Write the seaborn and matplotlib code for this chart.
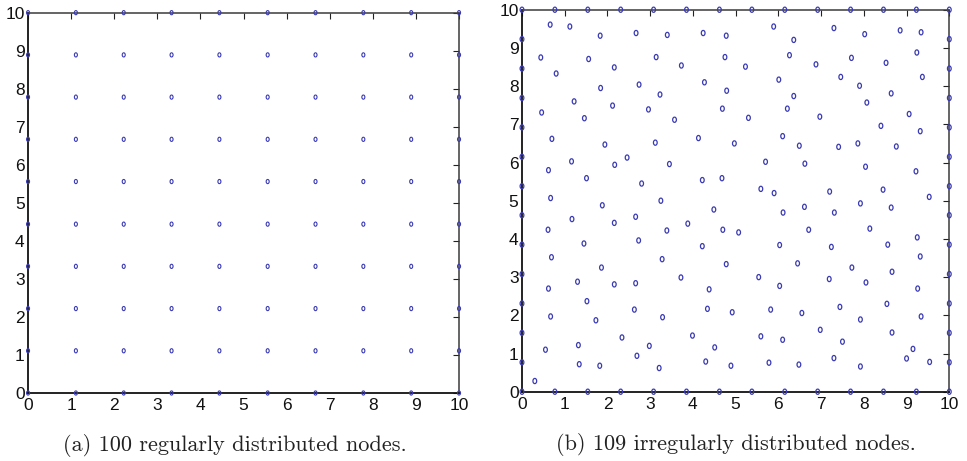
import numpy as np
import pandas as pd
import matplotlib
matplotlib.use("Agg")
import matplotlib.pyplot as plt
from matplotlib.path import Path
from matplotlib.transforms import Affine2D
import seaborn as sns

sns.set_style("white")
plt.rcParams["font.family"] = ["Liberation Sans", "DejaVu Sans"]

# (a) regular grid coordinates (same along both axes)
grid_ticks = [0, 1.11, 2.22, 3.33, 4.44, 5.56, 6.67, 7.78, 8.89, 10]

# (b) nodes placed along the domain boundary (same along every side)
edge_ticks = [0, 0.77, 1.54, 2.31, 3.08, 3.85, 4.62, 5.38, 6.15, 6.92,
              7.69, 8.46, 9.23, 10]

# (b) interior scattered nodes
irr_x = [0.66, 1.12, 1.83, 2.67, 3.40, 4.24, 4.78, 0.44, 1.56, 3.14,
         4.75, 0.80, 2.16, 3.73, 1.84, 2.74, 4.27, 4.79, 3.23, 1.22,
         2.12, 0.46, 2.96, 4.69, 1.46, 3.57, 0.70, 4.13, 4.97, 1.94,
         3.12, 2.46, 1.16, 2.17, 3.45, 0.62, 1.51, 4.22, 4.68, 2.80,
         0.67, 3.25, 1.88, 4.49, 1.17, 2.66, 2.16, 3.88, 0.61, 3.39,
         4.70, 5.07,
         5.89, 7.30, 8.02, 8.85, 9.34, 6.36, 6.26, 7.71, 6.88, 8.52,
         9.24, 5.23, 6.01, 7.46, 7.90, 9.37, 8.64, 6.36, 6.21, 8.07,
         5.30, 6.97, 9.06, 8.40, 9.32, 6.10, 6.49, 7.41, 7.86, 8.76,
         5.70, 6.62, 8.04, 9.22, 5.59, 5.90, 7.20, 8.45, 9.53, 6.61,
         7.92, 8.64, 6.11, 7.31, 6.71, 8.14,
         1.45, 2.73, 4.22, 0.69, 3.28, 4.78, 1.86, 1.30, 2.16, 2.66,
         3.72, 0.62, 4.38, 1.52, 2.63, 4.34, 0.67, 1.73, 3.29, 4.92,
         2.34, 3.99, 0.55, 1.32, 2.98, 4.51, 2.69, 1.34, 1.82, 3.21,
         4.30, 4.89, 0.30,
         6.03, 7.24, 8.56, 9.25, 9.32, 6.45, 7.72, 8.66, 5.54, 6.03,
         7.19, 8.05, 9.26, 5.82, 6.55, 7.44, 8.54, 7.92, 9.34, 6.98,
         8.66, 5.59, 6.10, 7.50, 9.15, 5.78, 6.48, 7.30, 9.00, 9.54,
         7.92]
irr_y = [9.61, 9.56, 9.32, 9.39, 9.34, 9.39, 9.32, 8.75, 8.71, 8.76,
         8.76, 8.33, 8.49, 8.54, 7.95, 8.04, 8.10, 7.88, 7.78, 7.60,
         7.49, 7.31, 7.39, 7.41, 7.16, 7.12, 6.62, 6.64, 6.50, 6.47,
         6.52, 6.13, 6.03, 5.94, 5.96, 5.80, 5.59, 5.54, 5.59, 5.45,
         5.07, 5.00, 4.88, 4.77, 4.52, 4.58, 4.42, 4.40, 4.24, 4.22,
         4.24, 4.17,
         9.56, 9.52, 9.36, 9.46, 9.41, 9.21, 8.81, 8.74, 8.57, 8.61,
         8.88, 8.51, 8.17, 8.24, 8.01, 8.24, 7.81, 7.74, 7.41, 7.57,
         7.17, 7.20, 7.27, 6.96, 6.82, 6.69, 6.44, 6.41, 6.50, 6.42,
         6.02, 5.97, 5.89, 5.77, 5.31, 5.20, 5.24, 5.29, 5.10, 4.84,
         4.93, 4.82, 4.69, 4.69, 4.24, 4.27,
         3.88, 3.96, 3.81, 3.52, 3.47, 3.34, 3.25, 2.88, 2.81, 2.84,
         2.99, 2.70, 2.68, 2.37, 2.15, 2.17, 1.97, 1.87, 1.95, 2.08,
         1.42, 1.47, 1.10, 1.22, 1.20, 1.16, 0.94, 0.72, 0.68, 0.62,
         0.79, 0.68, 0.28,
         3.84, 3.79, 3.85, 4.04, 3.54, 3.36, 3.25, 3.14, 3.00, 2.77,
         2.95, 2.86, 2.70, 2.15, 2.06, 2.22, 2.30, 1.89, 1.97, 1.62,
         1.55, 1.45, 1.36, 1.31, 1.12, 0.76, 0.71, 0.88, 0.87, 0.78,
         0.66]

captions = ["(a) 100 regularly distributed nodes.",
            "(b) 109 irregularly distributed nodes."]
axis_ticks = list(range(0, 11))

# regular grid table
gx, gy = np.meshgrid(grid_ticks, grid_ticks)
regular = pd.DataFrame({"x": gx.ravel(), "y": gy.ravel()})

# boundary + interior table
e = np.array(edge_ticks)
bx = np.concatenate([e, e, np.zeros_like(e[1:-1]), np.full_like(e[1:-1], 10)])
by = np.concatenate([np.zeros_like(e), np.full_like(e, 10), e[1:-1], e[1:-1]])
irregular = pd.DataFrame({"x": np.concatenate([bx, irr_x]),
                          "y": np.concatenate([by, irr_y])})

# slightly tall oval marker
oval = Path.unit_circle().transformed(Affine2D().scale(0.72, 1.0))
node_color = "#3a3ab4"

fig = plt.figure(figsize=(9.67, 4.61), dpi=100)
ax_a = fig.add_axes([0.0290, 0.1475, 0.4457, 0.8250])
ax_b = fig.add_axes([0.5398, 0.1503, 0.4419, 0.8286])

panels = [(ax_a, regular, captions[0], 9, 0.8, (0.481, -0.137)),
          (ax_b, irregular, captions[1], 14, 0.9, (0.5, -0.1395))]
for ax, df, cap, size, lw, cap_xy in panels:
    sns.scatterplot(data=df, x="x", y="y", ax=ax, marker=oval, s=size,
                    facecolors="none", edgecolor=node_color, linewidth=lw,
                    clip_on=False, zorder=5, legend=False)
    ax.set_xlim(0, 10)
    ax.set_ylim(0, 10)
    ax.set_xticks(axis_ticks)
    ax.set_yticks(axis_ticks)
    ax.set_xlabel("")
    ax.set_ylabel("")
    ax.tick_params(direction="in", length=4, width=0.8, top=True, right=True,
                   labelsize=12.5, color="#222222", labelcolor="#111111")
    ax.tick_params(axis="x", pad=3.5)
    ax.tick_params(axis="y", pad=2.5)
    for side in ["left", "bottom"]:
        ax.spines[side].set_color("#111111")
        ax.spines[side].set_linewidth(1.3)
    for side in ["top", "right"]:
        ax.spines[side].set_color("#3a3a3a")
        ax.spines[side].set_linewidth(1.1)
    ax.text(cap_xy[0], cap_xy[1], cap, transform=ax.transAxes, ha="center",
            va="center", fontsize=16, family="cmr10", color="#222222")

fig.savefig("out.png", dpi=100)
